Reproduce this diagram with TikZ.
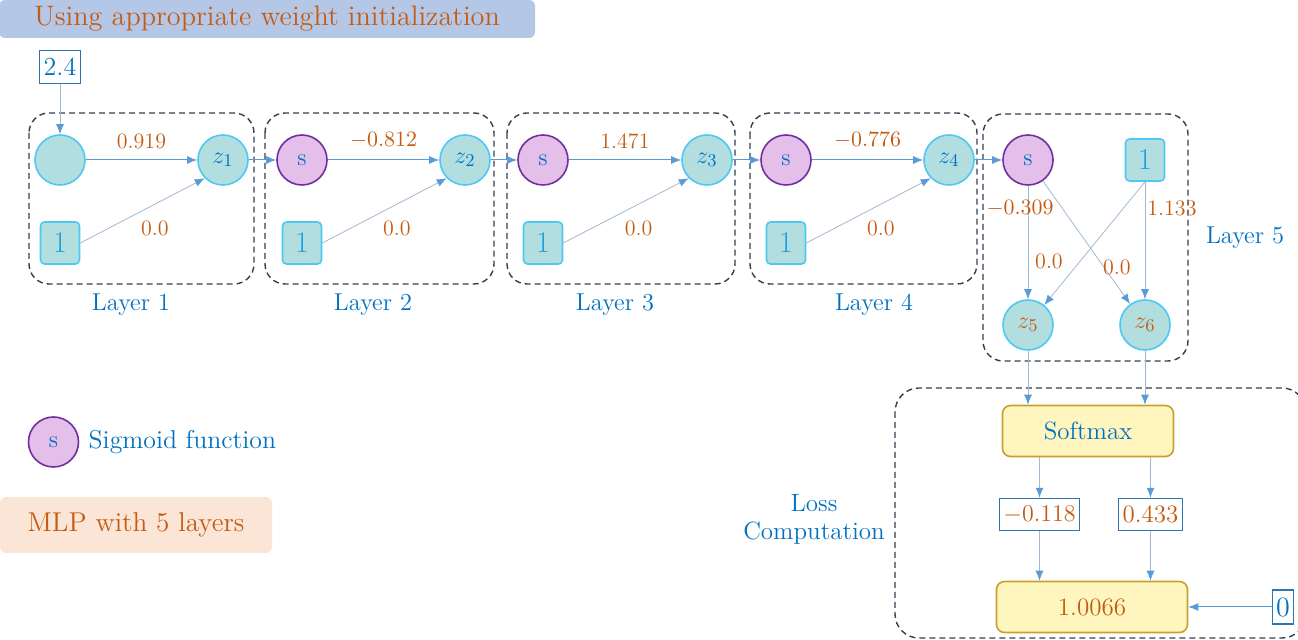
\documentclass[tikz,border=0pt]{standalone}
\usepackage{tikz}
\usetikzlibrary{shapes, arrows.meta, positioning, calc}

\definecolor{txtblue}{HTML}{0070C0}
\definecolor{txtorange}{HTML}{C55A11}
\definecolor{edgeblue}{HTML}{5B9BD5}
\definecolor{edgegray}{HTML}{A3B8D2}
\definecolor{tealfill}{HTML}{B2DEDF}
\definecolor{tealline}{HTML}{4DC8F2}
\definecolor{sigfill}{HTML}{E4BFEA}
\definecolor{sigline}{HTML}{7030A0}
\definecolor{onecol}{HTML}{1AA3E0}
\definecolor{boxblue}{HTML}{2E75B6}
\definecolor{dashcol}{HTML}{333F50}
\definecolor{softfill}{HTML}{FFF6BF}
\definecolor{softline}{HTML}{C8A02A}
\definecolor{bannerfill}{HTML}{B4C7E7}
\definecolor{mlpfill}{HTML}{FBE5D6}

\tikzstyle{neuron} = [circle, draw=tealline, fill=tealfill, line width=0.8pt,
    minimum size=25pt, inner sep=0pt, text=txtblue, font=\fontsize{13}{15}\selectfont]
\tikzstyle{sigmoid} = [circle, draw=sigline, fill=sigfill, line width=0.8pt,
    minimum size=25pt, inner sep=0pt, text=txtblue, font=\fontsize{12}{14}\selectfont]
\tikzstyle{bias} = [rectangle, rounded corners=2pt, draw=tealline, fill=tealfill, line width=0.8pt,
    minimum width=19.5pt, minimum height=21pt, inner sep=0pt, text=onecol, font=\fontsize{15}{17}\selectfont]
\tikzstyle{valbox} = [rectangle, draw=boxblue, fill=white, line width=0.6pt,
    inner xsep=2pt, inner ysep=3.7pt, font=\fontsize{12.5}{14}\selectfont]
\tikzstyle{softbox} = [rectangle, rounded corners=4pt, draw=softline, fill=softfill, line width=0.8pt,
    minimum width=85.5pt, minimum height=25.5pt, font=\fontsize{12.5}{14}\selectfont]
\tikzstyle{banner} = [rectangle, rounded corners=3pt, inner sep=0pt, text=txtorange]
\tikzstyle{wlabel} = [text=txtorange, inner sep=2pt, font=\fontsize{11}{13}\selectfont]
\tikzstyle{layername} = [text=txtblue, font=\fontsize{12.2}{14}\selectfont]
\tikzstyle{layerbox} = [draw=dashcol, dash pattern=on 3pt off 2pt, line width=0.7pt, rounded corners=10pt]
\tikzstyle{line} = [draw=edgeblue, line width=0.5pt, -{Latex[length=5pt, width=4pt]}]
\tikzstyle{thinline} = [draw=edgegray, line width=0.4pt, -{Latex[length=5pt, width=4pt, color=edgeblue]}]

\begin{document}
\begin{tikzpicture}[x=0.5pt, y=-0.5pt]
    \useasboundingbox (0,0) rectangle (1298,640);
    % Banners
    \node [banner, fill=bannerfill, minimum width=268pt, minimum height=19pt,
        font=\fontsize{14.1}{16}\selectfont] (title) at (267,19) {Using appropriate weight initialization};
    \node [banner, fill=mlpfill, minimum width=136pt, minimum height=28pt,
        font=\fontsize{13.6}{15}\selectfont] (mlp) at (136,525) {MLP with 5 layers};
    % Layer boxes
    \draw [layerbox] (29,113) rectangle (254,284);
    \draw [layerbox] (265,113) rectangle (494,284);
    \draw [layerbox] (507,113) rectangle (735,284);
    \draw [layerbox] (750,113) rectangle (977,284);
    \draw [layerbox] (983,114) rectangle (1188,361);
    \draw [layerbox, rounded corners=12pt] (895,388) rectangle (1306,638);
    % Nodes
    \node [valbox, text=txtblue, font=\fontsize{13}{15}\selectfont] (x) at (60,67) {2.4};
    \node [neuron] (a1) at (60,160) {};
    \node [neuron] (z1) at (223,160) {$z_1$};
    \node [bias] (b1) at (60,243) {1};
    \node [sigmoid] (s2) at (302,160) {s};
    \node [neuron] (z2) at (465,160) {$z_2$};
    \node [bias] (b2) at (302,243) {1};
    \node [sigmoid] (s3) at (543,160) {s};
    \node [neuron] (z3) at (707,160) {$z_3$};
    \node [bias] (b3) at (543,243) {1};
    \node [sigmoid] (s4) at (786,160) {s};
    \node [neuron] (z4) at (949,160) {$z_4$};
    \node [bias] (b4) at (786,243) {1};
    \node [sigmoid] (s5) at (1028,160) {s};
    \node [bias] (b5) at (1145,160) {1};
    \node [neuron, text=txtorange] (z5) at (1028,325) {$z_5$};
    \node [neuron, text=txtorange] (z6) at (1145,325) {$z_6$};
    \node [softbox, text=txtblue] (soft) at (1088,431) {Softmax};
    \node [valbox, text=txtorange] (p1) at (1039.5,514.5) {$-0.118$};
    \node [valbox, text=txtorange] (p2) at (1150.5,514.5) {0.433};
    \node [softbox, minimum width=95.5pt, text=txtorange] (loss) at (1092,607) {1.0066};
    \node [valbox, text=txtblue, font=\fontsize{14}{16}\selectfont] (y) at (1283,607) {0};
    % Labels
    \node [layername] (l1name) at (131,305) {Layer 1};
    \node [layername] (l2name) at (373,305) {Layer 2};
    \node [layername] (l3name) at (615,305) {Layer 3};
    \node [layername] (l4name) at (874,305) {Layer 4};
    \node [layername] (l5name) at (1245,238) {Layer 5};
    \node [layername, align=center, font=\fontsize{12.5}{14}\selectfont] (lossname) at (814,519) {Loss\\Computation};
    \node [sigmoid] (sig) at (53.5,442) {s};
    \node [layername, right=4.5pt of sig, inner sep=0pt, font=\fontsize{12.9}{15}\selectfont] (sigtext) {Sigmoid function};
    % Edges
    \path [thinline] (x) -- (a1);
    \path [line] (a1) -- node [wlabel, above=3.5pt] {0.919} (z1);
    \path [thinline] (b1.east) -- node [wlabel, pos=0.6, below=6pt] {0.0} (z1.south west);
    \path [line] (z1) -- (s2);
    \path [line] (s2) -- node [wlabel, above=3.5pt] {$-0.812$} (z2);
    \path [thinline] (b2.east) -- node [wlabel, pos=0.6, below=6pt] {0.0} (z2.south west);
    \path [line] (z2) -- (s3);
    \path [line] (s3) -- node [wlabel, above=3.5pt] {1.471} (z3);
    \path [thinline] (b3.east) -- node [wlabel, pos=0.6, below=6pt] {0.0} (z3.south west);
    \path [line] (z3) -- (s4);
    \path [line] (s4) -- node [wlabel, above=3.5pt] {$-0.776$} (z4);
    \path [thinline] (b4.east) -- node [wlabel, pos=0.6, below=6pt] {0.0} (z4.south west);
    \path [line] (z4) -- (s5);
    \path [thinline] (s5) -- node [wlabel, pos=0.2, xshift=-4pt] {$-0.309$}
        node [wlabel, pos=0.67, xshift=10.5pt] {0.0} (z5);
    \path [thinline] (s5) -- node [wlabel, pos=0.7, xshift=6.5pt] {0.0} (z6);
    \path [thinline] (b5.south) -- (z5);
    \path [thinline] (b5.south) -- node [wlabel, pos=0.23, xshift=13.5pt] {1.133} (z6);
    \path [thinline] (z5) -- (z5 |- soft.north);
    \path [thinline] (z6) -- (z6 |- soft.north);
    \path [thinline] (p1 |- soft.south) -- (p1);
    \path [thinline] (p2 |- soft.south) -- (p2);
    \path [thinline] (p1) -- (p1 |- loss.north);
    \path [thinline] (p2) -- (p2 |- loss.north);
    \path [line] (y) -- (loss);
\end{tikzpicture}
\end{document}
